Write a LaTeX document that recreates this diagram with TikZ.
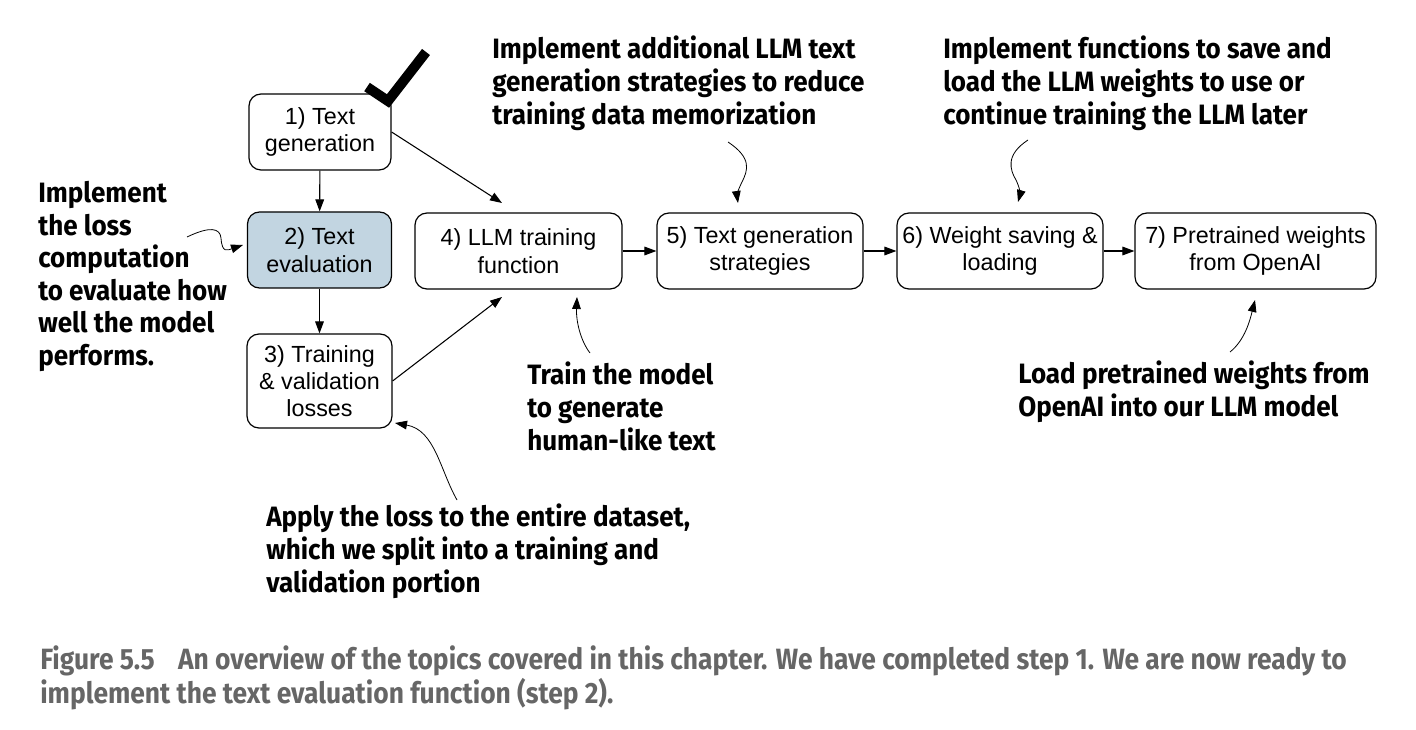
\documentclass[tikz,border=0pt]{standalone}
\usepackage{fontspec}
\setmainfont{Liberation Sans}
\newfontfamily\annfont[FakeStretch=0.93]{Fira Sans}
\newfontfamily\capfont[FakeStretch=0.9]{Fira Sans}
\usepackage{xcolor}
\usepackage{tikz}
\usetikzlibrary{positioning}
\usetikzlibrary{arrows.meta}
\definecolor{evalblue}{HTML}{C2D5E1}
\definecolor{capgray}{HTML}{666666}
\tikzset{
  stepbox/.style={draw, rounded corners=9pt, line width=0.9pt, align=center,
    inner sep=0pt, minimum height=57pt, font=\fontsize{17.5}{20.5}\selectfont},
  flow/.style={-{Triangle[length=9pt,width=6.5pt]}, line width=0.8pt},
  note/.style={-{Triangle[length=9pt,width=6.5pt]}, line width=0.6pt},
  anntext/.style={anchor=north west, align=left, inner sep=0pt,
    font=\annfont\bfseries\fontsize{21}{24.4}\selectfont}
}
\begin{document}
\begin{tikzpicture}[x=0.75pt,y=-0.75pt]
    \useasboundingbox (0,0) rectangle (1416,730);
    % Steps of the chapter
    \node[stepbox, minimum width=106.5pt] (gen) at (320,132) {1) Text\\generation};
    \node[stepbox, minimum width=108pt, fill=evalblue] (eval) at (319.5,250) {2) Text\\evaluation};
    \node[stepbox, minimum width=108.75pt, minimum height=70.5pt] (losses) at (319.5,381) {3) Training\\\& validation\\losses};
    \node[stepbox, minimum width=155.25pt] (train) at (518.5,251) {4) LLM training\\function};
    \node[stepbox, minimum width=154.5pt] (strat) at (760,251) {5) Text generation\\strategies};
    \node[stepbox, minimum width=154.5pt] (save) at (1000,251) {6) Weight saving \&\\loading};
    \node[stepbox, minimum width=180.75pt] (openai) at (1255.5,251) {7) Pretrained weights\\from OpenAI};
    % Completed step
    \draw[line width=7.5pt, line join=miter] (367,87) -- (388,101) -- (426,52);
    % Flow between steps
    \coordinate (trainin) at (502,203);
    \coordinate (trainout) at (502,297);
    \draw[flow] (gen) -- (eval);
    \draw[flow] (eval) -- (losses);
    \draw[flow] (gen.east) -- (trainin);
    \draw[flow] (losses.east) -- (trainout);
    \draw[flow] (train) -- (strat);
    \draw[flow] (strat) -- (save);
    \draw[flow] (save) -- (openai);
    % Annotations
    \node[anntext] (lossnote) at (38,181) {Implement\\the loss\\computation\\to evaluate how\\well the model\\performs.};
    \node[anntext] (stratnote) at (492,36) {Implement additional LLM text\\generation strategies to reduce\\training data memorization};
    \node[anntext] (savenote) at (943,36) {Implement functions to save and\\load the LLM weights to use or\\continue training the LLM later};
    \node[anntext] (trainnote) at (527,362) {Train the model\\to generate\\human-like text};
    \node[anntext] (applynote) at (266,504) {Apply the loss to the entire dataset,\\which we split into a training and\\validation portion};
    \node[anntext] (loadnote) at (1018,361) {Load pretrained weights from\\OpenAI into our LLM model};
    % Pointers from the annotations
    \coordinate (lossfrom) at (187,237);
    \coordinate (lossto) at (243,245);
    \coordinate (stratfrom) at (728,142);
    \coordinate (stratto) at (738,203);
    \coordinate (savefrom) at (1028,140);
    \coordinate (saveto) at (1018,202);
    \coordinate (trainfrom) at (590,353);
    \coordinate (trainto) at (577,297);
    \coordinate (applyfrom) at (457,500);
    \coordinate (applyto) at (395,423);
    \coordinate (loadfrom) at (1230,352);
    \coordinate (loadto) at (1255,300);
    \draw[note] (lossfrom) .. controls (210,226) and (220,228) .. (221,238)
      .. controls (222,254) and (228,250) .. (lossto);
    \draw[note] (stratfrom) .. controls (752,158) and (748,170) .. (742,182)
      .. controls (737,192) and (737,196) .. (stratto);
    \draw[note] (savefrom) .. controls (1005,155) and (1010,170) .. (1016,180)
      .. controls (1020,188) and (1020,195) .. (saveto);
    \draw[note] (trainfrom) .. controls (580,340) and (576,320) .. (trainto);
    \draw[note] (applyfrom) .. controls (440,470) and (435,430) .. (applyto);
    \draw[note] (loadfrom) .. controls (1245,340) and (1250,320) .. (loadto);
    % Caption
    \node[anchor=north west, align=left, inner sep=0pt, text=capgray,
      font=\capfont\bfseries\fontsize{22}{26.2}\selectfont] (caption) at (40,645)
      {Figure 5.5\hspace{0.8em}An overview of the topics covered in this chapter. We have completed step 1. We are now ready to\\implement the text evaluation function (step 2).};
\end{tikzpicture}
\end{document}
